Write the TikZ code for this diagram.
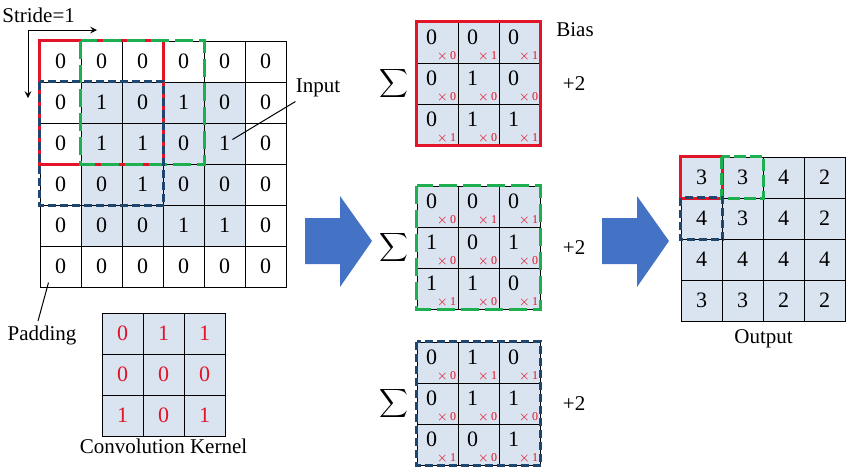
\documentclass[tikz,border=0pt]{standalone}
\usepackage{fontspec}
\setmainfont{Liberation Serif}
\begin{document}
\begin{tikzpicture}[x=0.5pt,y=-0.5pt,
  cell/.style={draw=black,line width=0.5pt,minimum size=20.5pt,inner sep=0pt,font=\fontsize{11}{12}\selectfont},
  sh/.style={fill=shade},
  kv/.style={text=kred},
  dig/.style={font=\fontsize{11}{12}\selectfont,inner sep=0pt},
  mul/.style={font=\fontsize{6}{7}\selectfont,text=kred,inner sep=0pt},
  redbox/.style={draw=kred,line width=1.3pt},
  greenbox/.style={draw=kgreen,line width=1.3pt,dash pattern=on 9pt off 3pt},
  bluebox/.style={draw=kblue,line width=1.3pt,dash pattern=on 4pt off 2pt},
  lbl/.style={font=\fontsize{10.5}{12}\selectfont,inner sep=1pt},
  bigarrow/.style={fill=arrowblue,draw=none}]
\definecolor{shade}{RGB}{218,227,240}
\definecolor{kred}{RGB}{225,20,40}
\definecolor{kgreen}{RGB}{30,175,80}
\definecolor{kblue}{RGB}{30,70,110}
\definecolor{arrowblue}{RGB}{68,114,196}
\useasboundingbox (0,0) rectangle (850,473);
% input grid
\foreach \row/\vals in {0/{0,0,0,0,0,0},1/{0,1,0,1,0,0},2/{0,1,1,0,1,0},3/{0,0,1,0,0,0},4/{0,0,0,1,1,0},5/{0,0,0,0,0,0}}{
  \foreach \v [count=\c from 0] in \vals {
    \pgfmathtruncatemacro{\inner}{(\row>0)&&(\row<5)&&(\c>0)&&(\c<5)}
    \ifnum\inner=1
      \node[cell,fill=shade] (in-\row-\c) at (60.5+41*\c,61.5+41*\row) {\v};
    \else
      \node[cell] (in-\row-\c) at (60.5+41*\c,61.5+41*\row) {\v};
    \fi
  }}
\draw[redbox] (in-0-0.north west) rectangle (in-2-2.south east);
\draw[greenbox] (in-0-1.north west) rectangle (in-2-3.south east);
\draw[bluebox] (in-1-0.north west) rectangle (in-3-2.south east);
% stride
\node[lbl,anchor=west] (stride) at (0,15) {Stride=1};
\coordinate (sc) at (28,30);
\coordinate (sh) at (97,30);
\coordinate (sv) at (28,98);
\draw[-stealth,line width=0.5pt] (sc) -- (sh);
\draw[-stealth,line width=0.5pt] (sc) -- (sv);
% input label
\node[lbl] (inlab) at (318,88) {Input};
\draw[line width=0.5pt] (inlab.south west) ++(2,2) -- ([xshift=4pt,yshift=2pt]in-2-4.center);
\node[lbl] (pad) at (42,335) {Padding};
\draw[line width=0.5pt] (pad.north) ++(-4,-2) -- ([xshift=-6pt,yshift=-8pt]in-5-0.center);
% kernel
\foreach \row/\vals in {0/{0,1,1},1/{0,0,0},2/{1,0,1}}{
  \foreach \v [count=\c from 0] in \vals {
    \node[cell,sh,kv] (k-\row-\c) at (122.5+41*\c,333.5+41*\row) {\v};
  }}
\node[lbl,anchor=north] (klab) at (k-2-1.south) {Convolution Kernel};
% sums
\newcommand{\sumgrid}[4]{%
  \foreach \row/\vals in #3 {
    \foreach \v/\m [count=\c from 0] in \vals {
      \node[cell,sh] (#1-\row-\c) at (437.5+41*\c,#2+20.5+41*\row) {};
      \node[dig] at ([xshift=-3pt,yshift=2.5pt]#1-\row-\c.center) {\v};
      \node[mul,anchor=south east] at ([xshift=-1pt,yshift=1pt]#1-\row-\c.south east) {$\times$\,\m};
    }}
  \draw[#4] (#1-0-0.north west) rectangle (#1-2-2.south east);
  \node[anchor=east,inner sep=0pt] (#1-sig) at ([xshift=-4pt]#1-1-0.west) {\fontsize{24}{26}\selectfont$\displaystyle\sum$};
  \node[lbl,anchor=west] (#1-b) at ([xshift=10pt]#1-1-2.east) {+2};
}
\sumgrid{r}{22}{{0/{0/0,0/1,0/1},1/{0/0,1/0,0/0},2/{0/1,1/0,1/1}}}{redbox}
\sumgrid{g}{186}{{0/{0/0,0/1,0/1},1/{1/0,0/0,1/0},2/{1/1,1/0,0/1}}}{greenbox}
\sumgrid{b}{342}{{0/{0/0,1/1,0/1},1/{0/0,1/0,1/0},2/{0/1,0/0,1/1}}}{bluebox}
\node[lbl] (bias) at (575,30) {Bias};
% big arrows
\fill[bigarrow] (305,218) -- (340,218) -- (340,196) -- (372,241) -- (340,287) -- (340,264) -- (305,264) -- cycle;
\fill[bigarrow] (602,218) -- (637,218) -- (637,196) -- (669,241) -- (637,287) -- (637,264) -- (602,264) -- cycle;
% output
\foreach \row/\vals in {0/{3,3,4,2},1/{4,3,4,2},2/{4,4,4,4},3/{3,3,2,2}}{
  \foreach \v [count=\c from 0] in \vals {
    \node[cell,sh] (o-\row-\c) at (701.5+41*\c,177.5+41*\row) {\v};
  }}
\draw[redbox] (o-0-0.north west) rectangle (o-0-0.south east);
\draw[greenbox,dash pattern=on 6pt off 2pt] (o-0-1.north west) rectangle (o-0-1.south east);
\draw[bluebox] (o-1-0.north west) rectangle (o-1-0.south east);
\node[lbl,anchor=north] (olab) at ([yshift=-3pt]o-3-1.south east) {Output};
\end{tikzpicture}
\end{document}
